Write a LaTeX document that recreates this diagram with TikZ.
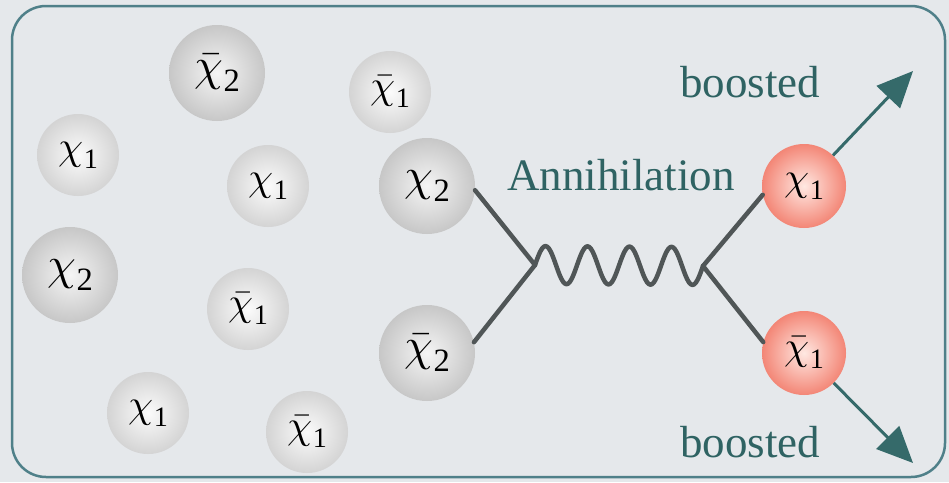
\documentclass[tikz,border=0pt]{standalone}
\usepackage{fontspec}
\usepackage{graphicx}
\setmainfont{Liberation Serif}
\usetikzlibrary{arrows.meta}
\definecolor{bgc}{HTML}{E5E8EB}
\definecolor{frame}{HTML}{4F8089}
\definecolor{tealtxt}{HTML}{2F6363}
\definecolor{arrowc}{HTML}{356A6A}
\definecolor{feyn}{HTML}{505657}
\newcommand\chsc{4.0}
\newcommand\cx[1]{{\fontsize{10}{12}\selectfont\scalebox{\chsc}{$\chi$}}\kern0.02em\raisebox{-0.24em}{\scalebox{0.74}{#1}}}
\newcommand\cxb[1]{{\fontsize{10}{12}\selectfont\scalebox{\chsc}{$\bar{\chi}$}}\kern0.02em\raisebox{-0.24em}{\scalebox{0.74}{#1}}}
\tikzset{
  ball/.style={circle, inner sep=0pt, shading=radial},
  smallball/.style={ball, minimum size=82pt, inner color=white!97!gray, outer color=gray!34,
     font=\fontsize{38}{40}\selectfont\renewcommand\chsc{4.0}},
  bigball/.style={ball, minimum size=96pt, inner color=white!92!gray, outer color=gray!44,
     font=\fontsize{44}{46}\selectfont\renewcommand\chsc{4.6}},
  redball/.style={ball, minimum size=84pt, inner color={rgb,255:red,255;green,232;blue,226}, outer color={rgb,255:red,243;green,134;blue,118},
     font=\fontsize{38}{40}\selectfont\renewcommand\chsc{4.0}},
  lbl/.style={text=tealtxt, font=\fontsize{45}{46}\selectfont, inner sep=0pt},
  fline/.style={draw=feyn, line width=4.5pt, line cap=round},
  boost/.style={draw=arrowc, line width=3pt, -{Triangle[length=36pt,width=32pt]}}
}
\begin{document}
\begin{tikzpicture}[x=1pt,y=-1pt]
\useasboundingbox (0,0) rectangle (949,482);
\fill[bgc] (0,0) rectangle (949,482);
\draw[frame, line width=2.5pt, rounded corners=34pt] (12,6) rectangle (945,477);

% background particles
\node[bigball]   (b1) at (217,73)  {\cxb{2}};
\node[smallball] (s1) at (390,92)  {\cxb{1}};
\node[smallball] (s2) at (78,155)  {\cx{1}};
\node[smallball] (s3) at (268,186) {\cx{1}};
\node[bigball]   (b2) at (70,275)  {\cx{2}};
\node[smallball] (s4) at (248,309) {\cxb{1}};
\node[smallball] (s5) at (148,413) {\cx{1}};
\node[smallball] (s6) at (307,432) {\cxb{1}};

% annihilating pair
\node[bigball] (in1) at (427,186) {\cx{2}};
\node[bigball] (in2) at (427,353) {\cxb{2}};
% products
\node[redball] (out1) at (804,186) {\cx{1}};
\node[redball] (out2) at (804,353) {\cxb{1}};

\coordinate (v1) at (535,265);
\coordinate (v2) at (703,266);
\coordinate (t1) at (913,71);
\coordinate (t2) at (913,463);

\draw[fline] (in1.-5) -- (v1);
\draw[fline] (in2.13) -- (v1);
\draw[fline] (v2) -- (out1.192);
\draw[fline] (v2) -- (out2.165);
\draw[fline, line join=round] plot[smooth, samples=97, domain=0:168, variable=\t]
  ({535+\t},{265+\t/168-19*sin(8.5714*\t)});

\draw[boost] (out1) -- (t1);
\draw[boost] (out2) -- (t2);

\node[lbl, anchor=base] (ann) at (621,190) {Annihilation};
\node[lbl, anchor=base west] (bt) at (680,97) {boosted};
\node[lbl, anchor=base west] (bb) at (680,457) {boosted};
\end{tikzpicture}
\end{document}
